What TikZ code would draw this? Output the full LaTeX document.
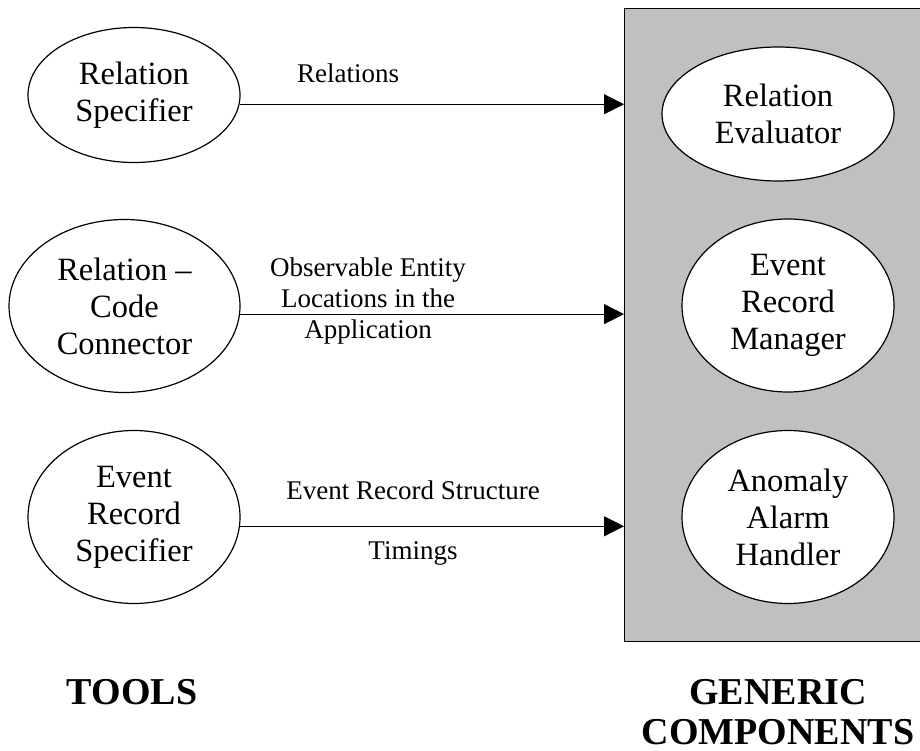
\documentclass[tikz,border=0pt]{standalone}
\usepackage{fontspec}
\setmainfont{Liberation Serif}
\usetikzlibrary{arrows.meta, positioning, shapes.geometric}
\definecolor{boxgray}{RGB}{192,192,192}
\tikzset{
  proc/.style={draw, ellipse, fill=white, line width=1.2pt, inner sep=0pt,
    align=center, font=\fontsize{32.5}{37}\selectfont},
  flow/.style={-{Triangle[length=20pt,width=20pt]}, line width=1pt},
  lbl/.style={align=center, font=\fontsize{27}{31}\selectfont},
  heading/.style={align=center, font=\bfseries\fontsize{38}{40}\selectfont}
}

\begin{document}
\begin{tikzpicture}[x=1pt, y=-1pt]
  \useasboundingbox (0,0) rectangle (920,751);
  % Generic components box
  \node[draw, fill=boxgray, line width=1pt, inner sep=0pt, anchor=north west,
    minimum width=330pt, minimum height=633pt] (gencomp) at (624,8) {};
  % Tools
  \node[proc, minimum width=212pt, minimum height=135pt] (relspec) at (134,95) {Relation\\Specifier};
  \node[proc, minimum width=231pt, minimum height=173pt] (relcode) at (124.5,306) {Relation --\\Code\\Connector};
  \node[proc, minimum width=212pt, minimum height=173pt] (evspec) at (134,517) {Event\\Record\\Specifier};
  % Generic components
  \node[proc, minimum width=232pt, minimum height=134pt] (releval) at (778,114) {Relation\\Evaluator};
  \node[proc, minimum width=212pt, minimum height=173pt] (evman) at (788,305.5) {Event\\Record\\Manager};
  \node[proc, minimum width=212pt, minimum height=173pt] (alarm) at (788,517) {Anomaly\\Alarm\\Handler};
  % Flows into the box
  \draw[flow] (relspec.-5) -- (relspec.-5 -| gencomp.west);
  \draw[flow] (relcode.-4.5) -- (relcode.-4.5 -| gencomp.west);
  \draw[flow] (evspec.-5) -- (evspec.-5 -| gencomp.west);
  % Flow labels
  \node[lbl] (lblrel) at (348,73) {Relations};
  \node[lbl] (lblobs) at (368,301) {Observable Entity\\Locations in the\\Application};
  \node[lbl] (lblstruct) at (413,490) {Event Record Structure};
  \node[lbl] (lbltime) at (413,553) {Timings};
  % Headings
  \node[heading] (tools) at (132,692) {TOOLS};
  \node[heading] (generic) at (778,712) {GENERIC\\COMPONENTS};
\end{tikzpicture}
\end{document}
